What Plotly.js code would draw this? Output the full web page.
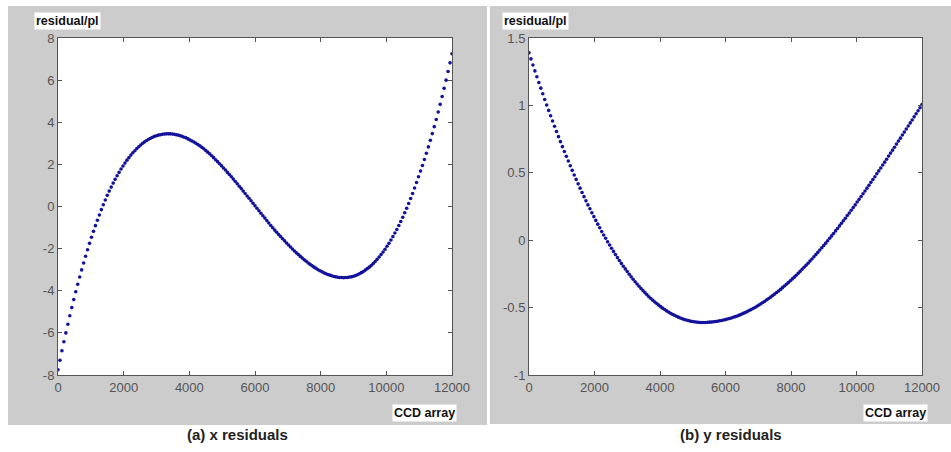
<!DOCTYPE html>
<html>
<head>
<meta charset="utf-8">
<script src="https://cdn.plot.ly/plotly-3.0.1.min.js"></script>
<style>
  html, body { margin: 0; padding: 0; background: #ffffff; }
  #chart { width: 951px; height: 452px; }
</style>
</head>
<body>
<div id="chart"></div>
<script>
// ---- data ----
// CCD array positions: first sample and spacing between samples
const ccdStart = 0;
const ccdStep = 60;

// (a) x residuals, one value per CCD sample (0 .. 12000)
const xResiduals = [
  -7.75,-7.30,-6.85,-6.42,-6.00,-5.59,-5.19,-4.80,-4.42,-4.05,
  -3.69,-3.35,-3.01,-2.68,-2.36,-2.05,-1.75,-1.46,-1.18,-0.91,
  -0.65,-0.40,-0.15,0.08,0.31,0.53,0.73,0.92,1.11,1.29,
  1.46,1.62,1.78,1.92,2.06,2.20,2.32,2.44,2.55,2.65,
  2.75,2.84,2.92,3.00,3.07,3.13,3.19,3.24,3.29,3.33,
  3.36,3.39,3.41,3.43,3.44,3.45,3.45,3.45,3.44,3.43,
  3.41,3.39,3.36,3.33,3.29,3.26,3.21,3.16,3.11,3.06,
  3.00,2.94,2.88,2.81,2.74,2.66,2.58,2.50,2.41,2.32,
  2.22,2.13,2.03,1.93,1.83,1.73,1.62,1.52,1.41,1.30,
  1.19,1.08,0.96,0.85,0.73,0.62,0.50,0.39,0.27,0.15,
  0.03,-0.08,-0.20,-0.32,-0.44,-0.55,-0.67,-0.78,-0.90,-1.01,
  -1.12,-1.22,-1.33,-1.43,-1.53,-1.63,-1.73,-1.83,-1.92,-2.02,
  -2.11,-2.20,-2.28,-2.37,-2.45,-2.53,-2.60,-2.68,-2.75,-2.81,
  -2.88,-2.94,-3.00,-3.05,-3.10,-3.15,-3.19,-3.23,-3.26,-3.29,
  -3.32,-3.34,-3.36,-3.37,-3.37,-3.38,-3.37,-3.37,-3.35,-3.34,
  -3.31,-3.28,-3.24,-3.19,-3.14,-3.09,-3.02,-2.95,-2.88,-2.80,
  -2.71,-2.61,-2.51,-2.40,-2.28,-2.16,-2.03,-1.89,-1.75,-1.59,
  -1.43,-1.26,-1.09,-0.90,-0.71,-0.51,-0.30,-0.08,0.14,0.38,
  0.62,0.88,1.14,1.41,1.68,1.95,2.23,2.53,2.83,3.14,
  3.46,3.79,4.13,4.49,4.85,5.22,5.61,6.00,6.41,6.82,7.25
];

// (b) y residuals, one value per CCD sample (0 .. 12000)
const yResiduals = [
  1.390,1.345,1.300,1.256,1.213,1.170,1.128,1.086,1.044,1.003,
  0.963,0.923,0.884,0.845,0.806,0.768,0.731,0.694,0.658,0.622,
  0.587,0.552,0.518,0.484,0.451,0.418,0.386,0.354,0.323,0.292,
  0.262,0.233,0.203,0.175,0.147,0.119,0.092,0.065,0.039,0.014,
  -0.011,-0.036,-0.060,-0.083,-0.106,-0.129,-0.151,-0.172,-0.193,-0.213,
  -0.233,-0.253,-0.272,-0.290,-0.308,-0.325,-0.342,-0.358,-0.374,-0.389,
  -0.404,-0.419,-0.432,-0.446,-0.458,-0.470,-0.482,-0.493,-0.504,-0.514,
  -0.524,-0.533,-0.542,-0.550,-0.557,-0.564,-0.571,-0.577,-0.583,-0.588,
  -0.592,-0.596,-0.600,-0.603,-0.605,-0.607,-0.609,-0.610,-0.610,-0.610,
  -0.610,-0.609,-0.608,-0.607,-0.605,-0.603,-0.601,-0.598,-0.596,-0.592,
  -0.589,-0.585,-0.581,-0.577,-0.572,-0.567,-0.562,-0.556,-0.550,-0.543,
  -0.537,-0.530,-0.522,-0.515,-0.507,-0.499,-0.490,-0.481,-0.472,-0.462,
  -0.453,-0.442,-0.432,-0.422,-0.411,-0.400,-0.388,-0.377,-0.365,-0.352,
  -0.340,-0.327,-0.314,-0.301,-0.287,-0.274,-0.260,-0.245,-0.231,-0.216,
  -0.201,-0.186,-0.171,-0.155,-0.139,-0.123,-0.107,-0.090,-0.073,-0.056,
  -0.039,-0.022,-0.004,0.014,0.032,0.050,0.069,0.087,0.106,0.125,
  0.144,0.163,0.183,0.202,0.222,0.242,0.262,0.283,0.303,0.324,
  0.345,0.365,0.386,0.407,0.429,0.450,0.471,0.493,0.514,0.536,
  0.558,0.579,0.601,0.624,0.646,0.668,0.690,0.713,0.735,0.757,
  0.780,0.802,0.825,0.847,0.870,0.892,0.915,0.938,0.960,0.983,1.006
];

// tick labels
const xTickVals = [0, 2000, 4000, 6000, 8000, 10000, 12000];
const xTickText = ['0', '2000', '4000', '6000', '8000', '10000', '12000'];
const leftTickVals = [-8, -6, -4, -2, 0, 2, 4, 6, 8];
const leftTickText = ['-8', '-6', '-4', '-2', '0', '2', '4', '6', '8'];
const rightTickVals = [-1, -0.5, 0, 0.5, 1, 1.5];
const rightTickText = ['-1', '-0.5', '0', '0.5', '1', '1.5'];

// texts
const yLabel = 'residual/pl';
const xLabel = 'CCD array';
const captionA = '(a) x residuals';
const captionB = '(b) y residuals';

// ---- drawing ----
const W = 951, H = 452;
const px = v => v / W;
const py = v => 1 - v / H;

const dotColor = '#12129c';
const marker = { color: dotColor, size: 3.6 };

const traces = [
  { type: 'scatter', mode: 'markers', x0: ccdStart, dx: ccdStep, y: xResiduals,
    xaxis: 'x', yaxis: 'y', marker: marker, hoverinfo: 'skip' },
  { type: 'scatter', mode: 'markers', x0: ccdStart, dx: ccdStep, y: yResiduals,
    xaxis: 'x2', yaxis: 'y2', marker: marker, hoverinfo: 'skip' }
];

const tickFont = { family: 'Liberation Sans, Arial, sans-serif', size: 13, color: '#555555' };
const axisCommon = {
  showline: true, linecolor: '#555555', linewidth: 1, mirror: 'ticks',
  ticks: 'inside', ticklen: 4, tickcolor: '#555555', tickwidth: 1,
  showgrid: false, zeroline: false, tickfont: tickFont, fixedrange: true
};

const yDomain = [py(375), py(38)];
const labelFont = { family: 'Liberation Sans, Arial, sans-serif', size: 12.5, color: '#111111' };
const captionFont = { family: 'Liberation Sans, Arial, sans-serif', size: 15, color: '#222222' };

const layout = {
  width: W, height: H,
  margin: { l: 0, r: 0, t: 0, b: 0 },
  paper_bgcolor: '#ffffff',
  plot_bgcolor: 'rgba(0,0,0,0)',
  showlegend: false,
  xaxis: Object.assign({}, axisCommon, {
    domain: [px(58), px(452)], range: [0, 12000], anchor: 'y',
    tickmode: 'array', tickvals: xTickVals, ticktext: xTickText
  }),
  yaxis: Object.assign({}, axisCommon, {
    domain: yDomain, range: [-8, 8], anchor: 'x',
    tickmode: 'array', tickvals: leftTickVals, ticktext: leftTickText
  }),
  xaxis2: Object.assign({}, axisCommon, {
    domain: [px(529), px(922)], range: [0, 12000], anchor: 'y2',
    tickmode: 'array', tickvals: xTickVals, ticktext: xTickText
  }),
  yaxis2: Object.assign({}, axisCommon, {
    domain: yDomain, range: [-1, 1.5], anchor: 'x2',
    tickmode: 'array', tickvals: rightTickVals, ticktext: rightTickText
  }),
  shapes: [
    { type: 'rect', xref: 'paper', yref: 'paper', layer: 'below',
      x0: px(8), x1: px(487), y0: py(425), y1: py(6),
      fillcolor: '#cccccc', line: { width: 0 } },
    { type: 'rect', xref: 'paper', yref: 'paper', layer: 'below',
      x0: px(490), x1: px(951), y0: py(424), y1: py(6),
      fillcolor: '#cccccc', line: { width: 0 } },
    { type: 'rect', xref: 'x domain', yref: 'y domain', layer: 'below',
      x0: 0, x1: 1, y0: 0, y1: 1, fillcolor: '#ffffff', line: { width: 0 } },
    { type: 'rect', xref: 'x2 domain', yref: 'y2 domain', layer: 'below',
      x0: 0, x1: 1, y0: 0, y1: 1, fillcolor: '#ffffff', line: { width: 0 } }
  ],
  annotations: [
    { text: '<b>' + yLabel + '</b>', xref: 'paper', yref: 'paper', x: px(67), y: py(21),
      xanchor: 'center', yanchor: 'middle', showarrow: false, bgcolor: '#ffffff', borderpad: 1, font: labelFont },
    { text: '<b>' + yLabel + '</b>', xref: 'paper', yref: 'paper', x: px(535), y: py(21),
      xanchor: 'center', yanchor: 'middle', showarrow: false, bgcolor: '#ffffff', borderpad: 1, font: labelFont },
    { text: '<b>' + xLabel + '</b>', xref: 'paper', yref: 'paper', x: px(424), y: py(413),
      xanchor: 'center', yanchor: 'middle', showarrow: false, bgcolor: '#ffffff', borderpad: 1, font: labelFont },
    { text: '<b>' + xLabel + '</b>', xref: 'paper', yref: 'paper', x: px(895), y: py(413),
      xanchor: 'center', yanchor: 'middle', showarrow: false, bgcolor: '#ffffff', borderpad: 1, font: labelFont },
    { text: '<b>' + captionA + '</b>', xref: 'paper', yref: 'paper', x: px(237), y: py(434),
      xanchor: 'center', yanchor: 'middle', showarrow: false, font: captionFont },
    { text: '<b>' + captionB + '</b>', xref: 'paper', yref: 'paper', x: px(731), y: py(434),
      xanchor: 'center', yanchor: 'middle', showarrow: false, font: captionFont }
  ]
};

Plotly.newPlot('chart', traces, layout, { staticPlot: true, displayModeBar: false });
</script>
</body>
</html>
